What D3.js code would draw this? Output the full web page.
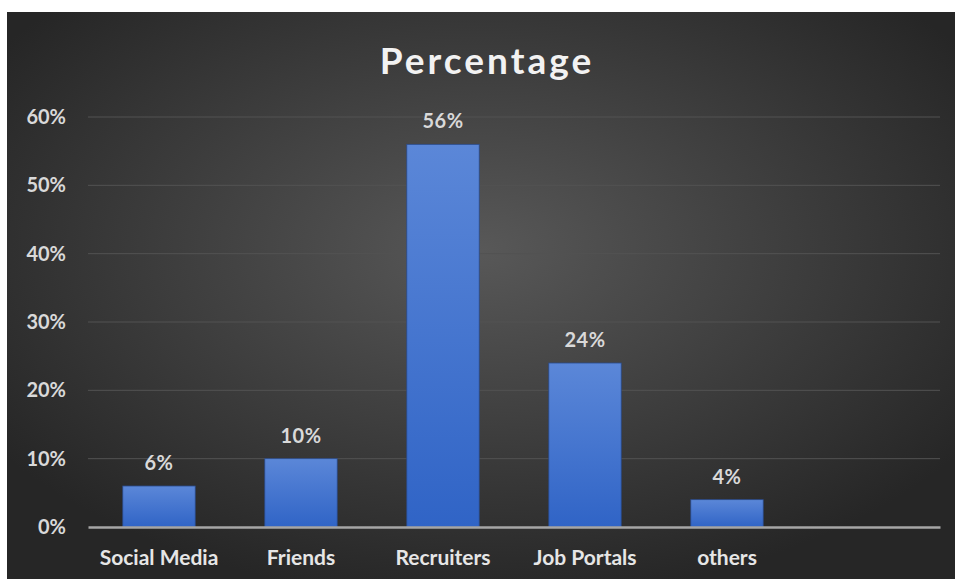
<!DOCTYPE html>
<html>
<head>
<meta charset="utf-8">
<script src="https://cdn.jsdelivr.net/npm/d3@7"></script>
<style>
  body { margin: 0; background: #fff; }
  svg { display: block; }
</style>
</head>
<body>
<svg></svg>
<script>
const svg = d3.select('svg');

//// data
const categories = ["Social Media", "Friends", "Recruiters", "Job Portals", "others", ""];
const values = [6, 10, 56, 24, 4];
const yTicks = [0, 10, 20, 30, 40, 50, 60];
const title = "Percentage";

//// layout
const width = 955;
const height = 579;
const plotLeft = 88, plotRight = 940, plotTop = 117, plotBottom = 527;
const font = "Lato, 'Open Sans', sans-serif";

svg.attr("width", width).attr("height", height);

const defs = svg.append("defs");
const bg = defs.append("radialGradient").attr("id", "bg")
  .attr("cx", "0.5").attr("cy", "0.42").attr("r", "0.62");
bg.append("stop").attr("offset", "0%").attr("stop-color", "#585858");
bg.append("stop").attr("offset", "100%").attr("stop-color", "#262626");

const barGrad = defs.append("linearGradient").attr("id", "barGrad")
  .attr("x1", 0).attr("y1", 0).attr("x2", 0).attr("y2", 1);
barGrad.append("stop").attr("offset", "0%").attr("stop-color", "#5b87d8");
barGrad.append("stop").attr("offset", "100%").attr("stop-color", "#3064c6");

svg.append("rect").attr("x", 7).attr("y", 12)
  .attr("width", width - 7).attr("height", height - 12)
  .attr("fill", "url(#bg)");

const x = d3.scaleBand().domain(categories).range([plotLeft, plotRight])
  .paddingInner(0.49).paddingOuter(0.245);
const y = d3.scaleLinear().domain([0, 60]).range([plotBottom, plotTop]);

//// grid
svg.append("g").selectAll("line").data(yTicks.slice(1)).enter().append("line")
  .attr("x1", plotLeft).attr("x2", plotRight)
  .attr("y1", d => y(d)).attr("y2", d => y(d))
  .attr("stroke", "#525252").attr("stroke-width", 1);

//// y axis labels
const yAxis = d3.axisLeft(y).tickValues(yTicks).tickFormat(d => d + "%").tickSize(0).tickPadding(0);
const yg = svg.append("g").attr("transform", "translate(66,0)").call(yAxis);
yg.select(".domain").remove();
yg.selectAll("text").attr("fill", "#d9d9d9").style("font-family", font)
  .style("font-size", "20px").style("font-weight", "bold");

//// bars
svg.append("g").selectAll("rect").data(values).enter().append("rect")
  .attr("x", (d, i) => x(categories[i]))
  .attr("y", d => y(d))
  .attr("width", x.bandwidth())
  .attr("height", d => plotBottom - y(d))
  .attr("fill", "url(#barGrad)")
  .attr("stroke", "#2a4a8a").attr("stroke-width", 0.8);

//// value labels
svg.append("g").selectAll("text").data(values).enter().append("text")
  .attr("x", (d, i) => x(categories[i]) + x.bandwidth() / 2)
  .attr("y", d => y(d) - 16)
  .attr("text-anchor", "middle")
  .attr("fill", "#d9d9d9")
  .style("font-family", font).style("font-size", "20px").style("font-weight", "bold")
  .style("letter-spacing", "0.5px")
  .text(d => d + "%");

//// x axis
const xAxis = d3.axisBottom(x).tickSize(0).tickPadding(0);
const xg = svg.append("g").attr("transform", "translate(0," + plotBottom + ")").call(xAxis);
xg.select(".domain").attr("stroke", "#a6a6a6").attr("stroke-width", 2.5);
xg.selectAll("text").attr("fill", "#e6e6e6").attr("dy", "38px")
  .style("font-family", font).style("font-size", "21px").style("font-weight", "bold");

//// title
svg.append("text").attr("x", 487).attr("y", 74)
  .attr("text-anchor", "middle").attr("fill", "#f2f2f2")
  .style("font-family", font).style("font-size", "37px").style("font-weight", "bold")
  .style("letter-spacing", "3px")
  .text(title);
</script>
</body>
</html>
